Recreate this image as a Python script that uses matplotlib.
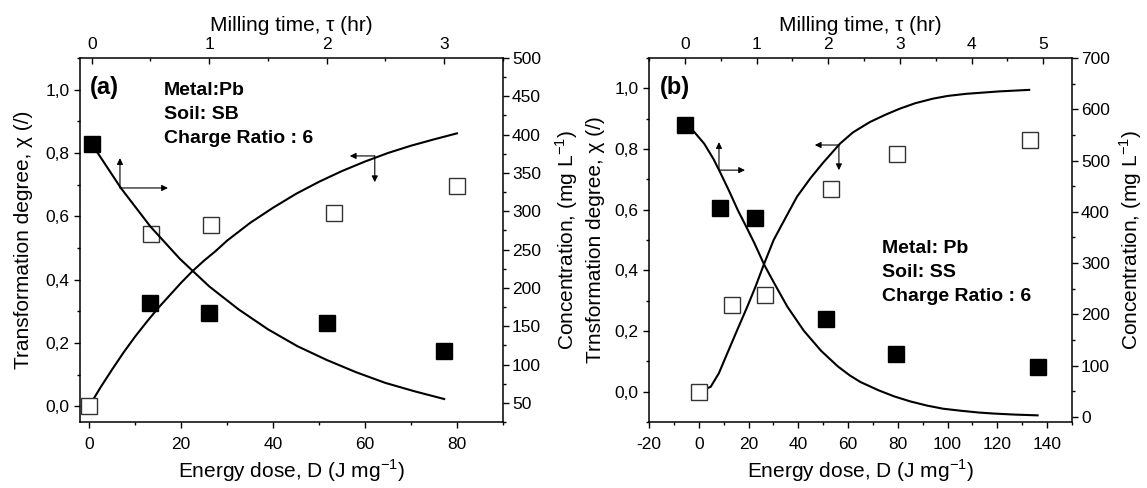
import matplotlib
matplotlib.use("Agg")
import matplotlib.pyplot as plt
from matplotlib.ticker import MultipleLocator, FuncFormatter

plt.rcParams['font.family'] = ['Liberation Sans', 'DejaVu Sans']
plt.rcParams['mathtext.fontset'] = 'custom'
plt.rcParams['mathtext.rm'] = 'Liberation Sans'
plt.rcParams['axes.unicode_minus'] = False

# ---- panel (a) : Pb / SB ----
a_dose_pts = [0, 13.5, 26.5, 53.3, 80]
a_chi_pts = [0.0, 0.543, 0.571, 0.609, 0.695]
a_tau_pts = [0, 0.5, 1.0, 2.0, 3.0]
a_conc_pts = [388, 180, 167, 154, 118]

a_dose_fit = [0, 2.5, 5, 7.5, 10, 12.5, 15, 17.5, 20, 22.5, 25, 27.5, 30,
              35, 40, 45, 50, 55, 60, 65, 70, 75, 80]
a_chi_fit = [0.0, 0.06, 0.116, 0.17, 0.22, 0.266, 0.31, 0.35, 0.39, 0.427,
             0.46, 0.49, 0.523, 0.579, 0.627, 0.671, 0.709, 0.743, 0.773,
             0.80, 0.823, 0.843, 0.862]
a_tau_fit = [0, 0.25, 0.5, 0.75, 1.0, 1.25, 1.5, 1.75, 2.0, 2.25, 2.5, 2.75, 3.0]
a_conc_fit = [388, 330, 280, 238, 202, 172, 146, 124, 106, 90, 76, 65, 55]

# ---- panel (b) : Pb / SS ----
b_dose_pts = [0, 13.5, 26.8, 53.2, 79.8, 133]
b_chi_pts = [0.0, 0.286, 0.319, 0.667, 0.785, 0.829]
b_tau_pts = [0, 0.49, 0.98, 1.97, 2.95, 4.92]
b_conc_pts = [570, 407, 387, 190, 123, 97]

b_dose_fit = [0, 4.8, 8.1, 11.5, 15.5, 19.5, 22.8, 26.1, 30.1, 35, 39.5, 45,
              50, 56.8, 62, 68.8, 75, 80.8, 87, 94.1, 100, 107.5, 120.8, 132.8]
b_chi_fit = [0.0, 0.016, 0.061, 0.127, 0.204, 0.28, 0.346, 0.418, 0.5, 0.575,
             0.643, 0.705, 0.755, 0.818, 0.855, 0.889, 0.913, 0.933, 0.951,
             0.966, 0.975, 0.982, 0.99, 0.995]
b_tau_fit = [0, 0.13, 0.27, 0.4, 0.5, 0.62, 0.74, 0.86, 0.97, 1.11, 1.25, 1.43,
             1.66, 1.9, 2.13, 2.3, 2.45, 2.7, 2.92, 3.15, 3.38, 3.6, 3.85, 4.1,
             4.31, 4.6, 4.92]
b_conc_fit = [572, 556, 533, 503, 475, 440, 403, 370, 339, 296, 260, 215, 168,
              129, 99, 81, 68, 52, 40, 30, 22, 16, 12, 8.5, 6.5, 4.5, 3]

comma = FuncFormatter(lambda v, p: f"{v:.1f}".replace('.', ','))

fig = plt.figure(figsize=(11.47, 4.88), dpi=100)


def make_panel(left, xlim, ylim, txlim, rylim, xmaj, rmaj, rmin, ylab, lpad, rpad):
    ax = fig.add_axes([left, 0.1352, 0.3688, 0.7459])
    ax2 = fig.add_axes([left, 0.1352, 0.3688, 0.7459], frameon=False)
    ax2.yaxis.tick_right()
    ax2.yaxis.set_label_position('right')
    ax2.xaxis.tick_top()
    ax2.xaxis.set_label_position('top')

    ax.set_xlim(*xlim)
    ax.set_ylim(*ylim)
    ax2.set_xlim(*txlim)
    ax2.set_ylim(*rylim)

    ax.xaxis.set_major_locator(MultipleLocator(xmaj))
    ax.xaxis.set_minor_locator(MultipleLocator(xmaj / 2))
    ax.yaxis.set_major_locator(MultipleLocator(0.2))
    ax.yaxis.set_minor_locator(MultipleLocator(0.1))
    ax.yaxis.set_major_formatter(comma)
    ax2.xaxis.set_major_locator(MultipleLocator(1))
    ax2.xaxis.set_minor_locator(MultipleLocator(0.5))
    ax2.yaxis.set_major_locator(MultipleLocator(rmaj))
    ax2.yaxis.set_minor_locator(MultipleLocator(rmin))

    for a in (ax, ax2):
        for s in a.spines.values():
            s.set_linewidth(1.1)
    ax.tick_params(which='both', direction='out', labelsize=12.5, width=1.0)
    ax.tick_params(axis='x', pad=6)
    ax.tick_params(axis='y', pad=3)
    ax.tick_params(which='major', length=4.5)
    ax.tick_params(which='minor', length=2.5)
    ax2.tick_params(axis='y', which='both', direction='out', labelsize=12.5, width=1.0, pad=2)
    ax2.tick_params(axis='x', which='both', direction='in', labelsize=12.5, width=1.0, pad=4)
    ax2.tick_params(which='major', length=4.5)
    ax2.tick_params(which='minor', length=2.5)

    ax.set_xlabel('Energy dose, D (J mg$^{-1}$)', fontsize=15, labelpad=4)
    ax.set_ylabel(ylab, fontsize=15, labelpad=lpad)
    ax2.set_xlabel('Milling time, τ (hr)', fontsize=15, labelpad=5)
    ax2.set_ylabel('Concentration, (mg L$^{-1}$)', fontsize=15, labelpad=rpad)
    return ax, ax2


def arrow(ax, x0, y0, x1, y1):
    ax.annotate('', xy=(x1, y1), xytext=(x0, y0), xycoords='axes fraction',
                arrowprops=dict(arrowstyle='-|>', lw=0.8, color='k',
                                mutation_scale=9, shrinkA=0, shrinkB=0))


sq_open = dict(ls='none', marker='s', ms=11, mfc='white', mec='#333333', mew=1.0)
sq_fill = dict(ls='none', marker='s', ms=12, mfc='black', mec='black')

# panel (a)
ax, ax2 = make_panel(0.0697, (-2, 90), (-0.05, 1.1), (-0.1, 3.5), (25, 500),
                     20, 50, 25, 'Transformation degree, χ (/)', 9, 9)
ax.plot(a_dose_fit, a_chi_fit, color='black', lw=1.5, zorder=2)
ax.plot(a_dose_pts, a_chi_pts, clip_on=False, zorder=3, **sq_open)
ax2.plot(a_tau_fit, a_conc_fit, color='black', lw=1.5, zorder=2)
ax2.plot(a_tau_pts, a_conc_pts, clip_on=False, zorder=3, **sq_fill)
ax.text(0.024, 0.918, '(a)', transform=ax.transAxes, fontsize=17,
        fontweight='bold', va='center', ha='left')
for i, t in enumerate(['Metal:Pb', 'Soil: SB', 'Charge Ratio : 6']):
    ax.text(0.199, 0.912 - i * 0.066, t, transform=ax.transAxes, fontsize=14,
            fontweight='bold', va='center', ha='left')
arrow(ax, 0.0946, 0.643, 0.0946, 0.725)
arrow(ax, 0.0946, 0.643, 0.208, 0.643)
arrow(ax, 0.697, 0.731, 0.638, 0.731)
arrow(ax, 0.697, 0.731, 0.697, 0.659)

# panel (b)
bx, bx2 = make_panel(0.5658, (-20, 150), (-0.1, 1.1), (-0.5, 5.4), (-10, 700),
                     20, 100, 50, 'Trnsformation degree, χ (/)', 7, 5)
bx.plot(b_dose_fit, b_chi_fit, color='black', lw=1.5, zorder=2)
bx.plot(b_dose_pts, b_chi_pts, clip_on=False, zorder=3, **sq_open)
bx2.plot(b_tau_fit, b_conc_fit, color='black', lw=1.5, zorder=2)
bx2.plot(b_tau_pts, b_conc_pts, clip_on=False, zorder=3, **sq_fill)
bx.text(0.026, 0.918, '(b)', transform=bx.transAxes, fontsize=17,
        fontweight='bold', va='center', ha='left')
for i, t in enumerate(['Metal: Pb', 'Soil: SS', 'Charge Ratio : 6']):
    bx.text(0.551, 0.478 - i * 0.067, t, transform=bx.transAxes, fontsize=14,
            fontweight='bold', va='center', ha='left')
arrow(bx, 0.1655, 0.692, 0.1655, 0.769)
arrow(bx, 0.1655, 0.692, 0.227, 0.692)
arrow(bx, 0.449, 0.761, 0.392, 0.761)
arrow(bx, 0.449, 0.761, 0.449, 0.692)

fig.savefig('out.png', dpi=100)
